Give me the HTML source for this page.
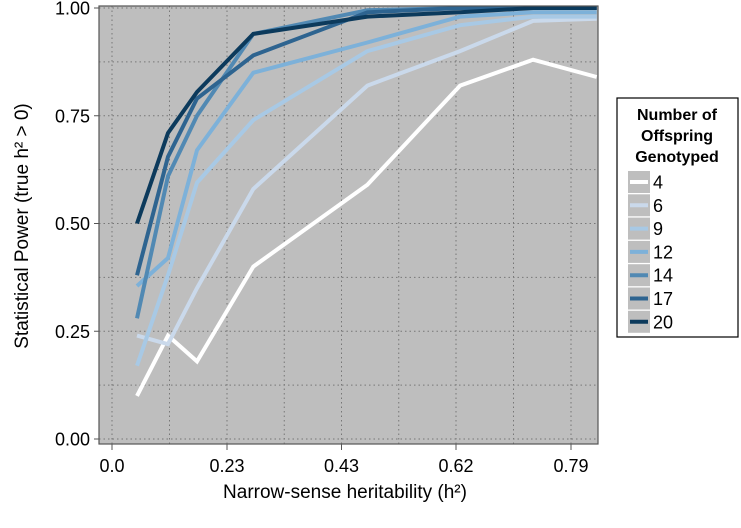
<!DOCTYPE html>
<html><head><meta charset="utf-8"><style>
body{margin:0;background:#fff;width:741px;height:523px;overflow:hidden}
text{font-family:"Liberation Sans",sans-serif}
</style></head><body>
<svg id="chart" width="741" height="523" viewBox="0 0 741 523" xmlns="http://www.w3.org/2000/svg">
<rect x="99" y="6" width="499" height="438" fill="#bebebe"/>
<g id="grid"></g>
<g id="series"></g>
<rect x="99" y="6" width="499" height="438" fill="none" stroke="#555" stroke-width="1.2"/>
<g id="axes"></g>
<text transform="translate(28,226) rotate(-90)" text-anchor="middle" font-size="19">Statistical Power (true h² &gt; 0)</text>
<text x="345" y="498" text-anchor="middle" font-size="19">Narrow-sense heritability (h²)</text>
<g id="legend"></g>
</svg>
<script>
const xTickLabels=["0.0","0.23","0.43","0.62","0.79"];
const xTickVals=[0,0.23,0.43,0.62,0.79];
const yTickLabels=["0.00","0.25","0.50","0.75","1.00"];
const heritability=[0.05,0.112,0.17,0.276,0.473,0.626,0.734,0.828];
const groups=["4","6","9","12","14","17","20"];
const power4=[0.10,0.24,0.18,0.40,0.59,0.82,0.88,0.84];
const power6=[0.24,0.22,0.35,0.58,0.82,0.90,0.97,0.975];
const power9=[0.17,0.38,0.595,0.74,0.90,0.96,0.98,0.98];
const power12=[0.355,0.42,0.67,0.85,0.92,0.98,0.99,0.99];
const power14=[0.28,0.61,0.75,0.94,0.995,1.0,1.0,1.0];
const power17=[0.38,0.655,0.79,0.89,0.99,1.0,1.0,1.0];
const power20=[0.50,0.71,0.805,0.94,0.98,0.99,1.0,1.0];
const allPower=[power4,power6,power9,power12,power14,power17,power20];
const colors=["#ffffff","#cad9eb","#a8c9e5","#7db1d9","#5189b3","#2e6490","#0c3a5c"];
const NS="http://www.w3.org/2000/svg";
const tickPx=[112,227,341.5,456,571];
function xScale(h){
  let i=0;
  while(i<xTickVals.length-2 && h>xTickVals[i+1]) i++;
  const a=xTickVals[i],b=xTickVals[i+1];
  return tickPx[i]+(h-a)/(b-a)*(tickPx[i+1]-tickPx[i]);
}
function yScale(v){return 439-v*431;}
function mk(tag,attrs,parent){const e=document.createElementNS(NS,tag);for(const k in attrs)e.setAttribute(k,attrs[k]);parent.appendChild(e);return e;}
const grid=document.getElementById('grid');
for(let i=0;i<9;i++){
  const v=i*0.125;
  const l=mk('line',{x1:99,x2:598,y1:yScale(v),y2:yScale(v),stroke:'#777','stroke-width':1,'stroke-dasharray':'1.5,3'},grid);
  
  
}
for(let i=0;i<tickPx.length;i++){
  const xs=[tickPx[i]];
  if(i<tickPx.length-1) xs.push((tickPx[i]+tickPx[i+1])/2);
  xs.forEach(x=>{
    const l=mk('line',{x1:x,x2:x,y1:6,y2:444,stroke:'#777','stroke-width':1,'stroke-dasharray':'1.5,3'},grid);
    
    
  });
}
const axes=document.getElementById('axes');
xTickLabels.forEach((t,i)=>{
  const x=xScale(xTickVals[i]);
  const tk=mk('line',{x1:x,x2:x,y1:444,y2:450,stroke:'#555','stroke-width':1},axes);
  
  
  const tx=mk('text',{x:x,y:472,'text-anchor':'middle','font-size':18},axes);
  tx.textContent=t;
  
  
});
yTickLabels.forEach((t,i)=>{
  const y=yScale(parseFloat(t));
  const tk=mk('line',{x1:94,x2:99,y1:y,y2:y,stroke:'#555','stroke-width':1},axes);
  
  
  const tx=mk('text',{x:90,y:y+6.5,'text-anchor':'end','font-size':18},axes);
  tx.textContent=t;
  
  
});
const series=document.getElementById('series');
allPower.forEach((vals,si)=>{
  const pts=vals.map((v,i)=>xScale(heritability[i]).toFixed(1)+','+yScale(v).toFixed(1)).join(' ');
  const p=mk('polyline',{points:pts,fill:'none',stroke:colors[si],'stroke-width':4,'stroke-linejoin':'miter'},series);
  
  
});
const lg=document.getElementById('legend');
const box=mk('rect',{x:617,y:98,width:121,height:239,fill:'#fff',stroke:'#000','stroke-width':1.2},lg);


["Number of","Offspring","Genotyped"].forEach((t,i)=>{
  const tx=mk('text',{x:677,y:120+i*21,'text-anchor':'middle','font-size':16,'font-weight':'bold'},lg);
  tx.textContent=t;
  
  
});
groups.forEach((g,i)=>{
  const cy=182+i*23.3;
  const k=mk('rect',{x:628,y:cy-11,width:22,height:22,fill:'#bebebe'},lg);
  
  
  const ln=mk('line',{x1:630,x2:648,y1:cy,y2:cy,stroke:colors[i],'stroke-width':4},lg);
  
  
  const tx=mk('text',{x:653,y:cy+6.5,'font-size':18},lg);
  tx.textContent=g;
  
  
});
</script>
</body></html>
